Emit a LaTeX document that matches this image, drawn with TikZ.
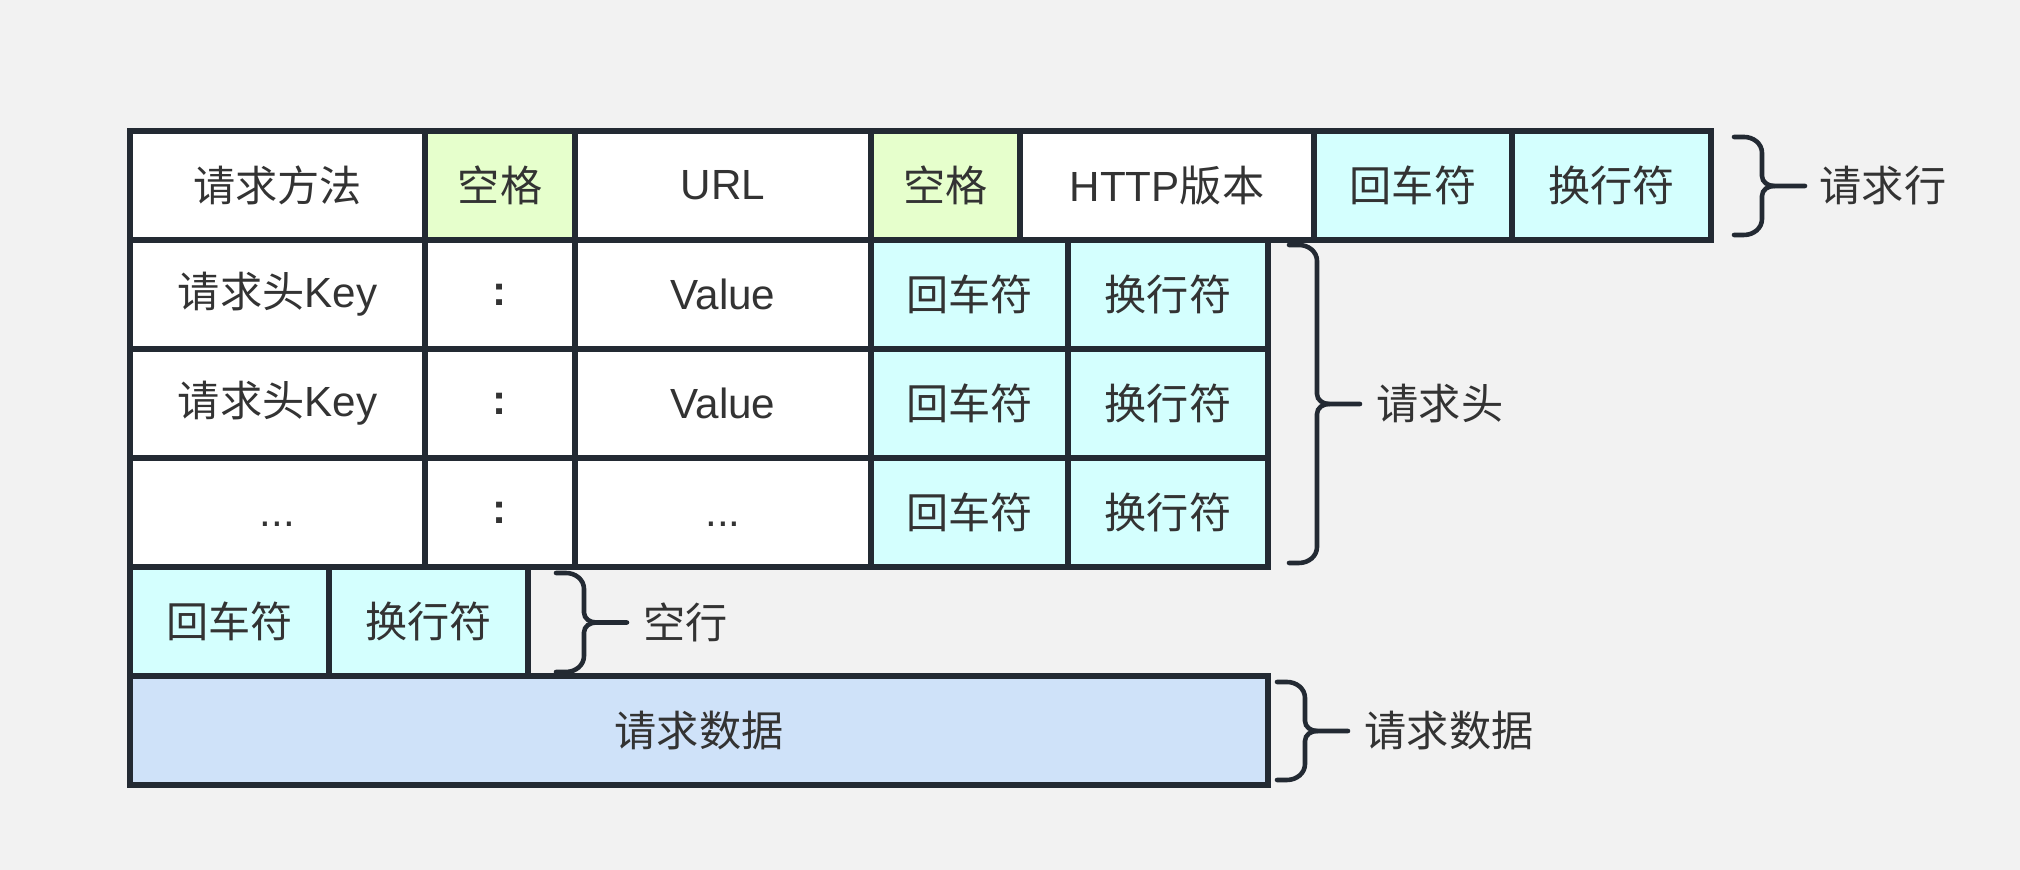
\documentclass[tikz,border=0pt]{standalone}
\usepackage{fontspec}
\setmainfont{Liberation Sans}
\newfontfamily\cjk{Noto Sans CJK SC}
\usepackage{tikz}
\usetikzlibrary{positioning}

\definecolor{bgc}{HTML}{F2F2F2}
\definecolor{linec}{HTML}{232A33}
\definecolor{textc}{HTML}{333333}
\definecolor{spacec}{HTML}{E6FFCC}
\definecolor{crlfc}{HTML}{D4FFFE}
\definecolor{datac}{HTML}{CFE2F9}

% curly bracket from top point #1 to bottom point #2, middle named #3
\newcommand{\sidebrace}[3]{%
\path (#1) -- (#2) coordinate[pos=.5] (#3);
\draw[curly] (#1) -- ++(.1,0) to[out=0,in=90] ++(.18,-.16) -- ([shift={(.28,.1)}]#3)
  to[out=-90,in=180] ++(.12,-.1) -- ++(.31,0) coordinate (#3-tip);
\draw[curly] (#2) -- ++(.1,0) to[out=0,in=-90] ++(.18,.16) -- ([shift={(.28,-.1)}]#3)
  to[out=90,in=180] ++(.12,.1);
}

\begin{document}
\begin{tikzpicture}[
cellbox/.style={draw=linec, line width=1.5pt, rectangle, fill=white, minimum
height=1.09cm, inner sep=0pt, outer sep=0pt, text=textc,
font=\fontsize{12}{14}\selectfont},
spacebox/.style={cellbox, fill=spacec},
crlfbox/.style={cellbox, fill=crlfc},
databox/.style={cellbox, fill=datac},
curly/.style={draw=linec, line width=1.3pt, line cap=round},
lbl/.style={inner sep=0pt, text=textc, font=\cjk\fontsize{12}{14}\selectfont}]

\fill[bgc] (0,0) rectangle (20.2,8.7);

% request line
\node [cellbox, minimum width=2.95cm] (method) at (2.775,6.845) {\cjk 请求方法};
\node [spacebox, minimum width=1.5cm, right=0pt of method] (sp1) {\cjk 空格};
\node [cellbox, minimum width=2.96cm, right=0pt of sp1] (url) {URL};
\node [spacebox, minimum width=1.49cm, right=0pt of url] (sp2) {\cjk 空格};
\node [cellbox, minimum width=2.94cm, right=0pt of sp2] (ver) {HTTP{\cjk 版本}};
\node [crlfbox, minimum width=1.98cm, right=0pt of ver] (cr0) {\cjk 回车符};
\node [crlfbox, minimum width=1.99cm, right=0pt of cr0] (lf0) {\cjk 换行符};

% headers
\node [cellbox, minimum width=2.95cm, below=0pt of method] (key1) {{\cjk 请求头}Key};
\node [cellbox, minimum width=1.5cm, right=0pt of key1] (colon1) {\textbf{:}};
\node [cellbox, minimum width=2.96cm, right=0pt of colon1] (val1) {Value};
\node [crlfbox, minimum width=1.97cm, right=0pt of val1] (cr1) {\cjk 回车符};
\node [crlfbox, minimum width=2cm, right=0pt of cr1] (lf1) {\cjk 换行符};

\node [cellbox, minimum width=2.95cm, below=0pt of key1] (key2) {{\cjk 请求头}Key};
\node [cellbox, minimum width=1.5cm, right=0pt of key2] (colon2) {\textbf{:}};
\node [cellbox, minimum width=2.96cm, right=0pt of colon2] (val2) {Value};
\node [crlfbox, minimum width=1.97cm, right=0pt of val2] (cr2) {\cjk 回车符};
\node [crlfbox, minimum width=2cm, right=0pt of cr2] (lf2) {\cjk 换行符};

\node [cellbox, minimum width=2.95cm, below=0pt of key2] (key3) {\vphantom{V}...};
\node [cellbox, minimum width=1.5cm, right=0pt of key3] (colon3) {\textbf{:}};
\node [cellbox, minimum width=2.96cm, right=0pt of colon3] (val3) {\vphantom{V}...};
\node [crlfbox, minimum width=1.97cm, right=0pt of val3] (cr3) {\cjk 回车符};
\node [crlfbox, minimum width=2cm, right=0pt of cr3] (lf3) {\cjk 换行符};

% empty line and body
\node [crlfbox, minimum width=1.99cm, anchor=north west] (cr4) at (key3.south west) {\cjk 回车符};
\node [crlfbox, minimum width=1.99cm, right=0pt of cr4] (lf4) {\cjk 换行符};
\node [databox, minimum width=11.38cm, anchor=north west] (body) at (cr4.south west) {\cjk 请求数据};

% brackets
\coordinate (rl-t) at ([shift={(.23,-.06)}]lf0.north east);
\coordinate (rl-b) at ([shift={(.23,.05)}]lf0.south east);
\sidebrace{rl-t}{rl-b}{rl}
\node [lbl, right=.14 of rl-tip] (rllbl) {请求行};

\coordinate (hd-t) at ([shift={(.21,-.05)}]lf1.north east);
\coordinate (hd-b) at ([shift={(.21,.04)}]lf3.south east);
\sidebrace{hd-t}{hd-b}{hd}
\node [lbl, right=.16 of hd-tip] (hdlbl) {请求头};

\coordinate (el-t) at ([shift={(.28,-.06)}]lf4.north east);
\coordinate (el-b) at ([shift={(.28,.04)}]lf4.south east);
\sidebrace{el-t}{el-b}{el}
\node [lbl, right=.16 of el-tip] (ellbl) {空行};

\coordinate (bd-t) at ([shift={(.09,-.06)}]body.north east);
\coordinate (bd-b) at ([shift={(.09,.05)}]body.south east);
\sidebrace{bd-t}{bd-b}{bd}
\node [lbl, right=.16 of bd-tip] (bdlbl) {请求数据};
\end{tikzpicture}
\end{document}
